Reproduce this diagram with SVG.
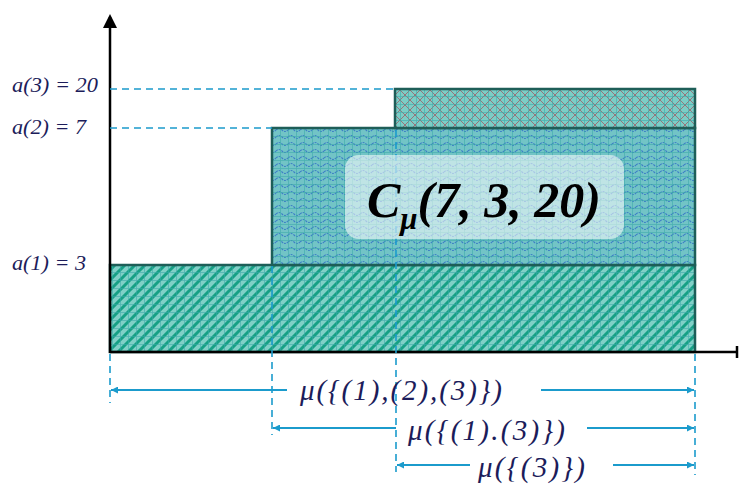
<svg xmlns="http://www.w3.org/2000/svg" width="739" height="486" viewBox="0 0 739 486">
<style>
.lbl{font-family:"Liberation Serif","Times New Roman","DejaVu Serif",serif;font-style:italic;fill:#1c1c5a;}
.dash{stroke:#1b9bcc;stroke-width:1.6;stroke-dasharray:7 5;fill:none;}
.dim{stroke:#1b9bcc;stroke-width:2;fill:none;}
.box{stroke:#1e5e58;stroke-width:2.5;}
.axis{stroke:#000;stroke-width:2.5;fill:none;}
</style>
<defs>
<pattern id="grid" width="8" height="8" patternUnits="userSpaceOnUse">
<path d="M0 0.5H8M0.5 0V8" stroke="#3aa8a8" stroke-width="0.8" opacity="0.7"/>
</pattern>
<pattern id="diag" width="10" height="10" patternUnits="userSpaceOnUse">
<rect width="10" height="10" fill="#80d0c7"/>
<path d="M-2 12L12 -2M-2 2L2 -2M8 12L12 8" stroke="#16a085" stroke-width="3"/>
</pattern>
<pattern id="wave" width="12" height="7" patternUnits="userSpaceOnUse">
<rect width="12" height="7" fill="#72c4c6"/>
<path d="M0 4Q3 1 6 4T12 4" stroke="#3d7fc6" stroke-width="1.1" fill="none" stroke-dasharray="2 1"/>
</pattern>
<pattern id="cross" width="10" height="10" patternUnits="userSpaceOnUse">
<rect width="10" height="10" fill="#7ccdc6"/>
<path d="M0 0L10 10M10 0L0 10" stroke="#9a6a72" stroke-width="0.9"/>
</pattern>
<marker id="ah" viewBox="0 0 10 10" refX="10" refY="5" markerWidth="7" markerHeight="7" orient="auto-start-reverse" markerUnits="userSpaceOnUse">
<path d="M0 0L10 5L0 10Z" fill="#1b9bcc"/>
</marker>
</defs>

<g id="bars">
<g id="bar1">
<rect x="110" y="265" width="585" height="87" fill="url(#diag)"/>
<rect x="110" y="265" width="585" height="87" fill="url(#grid)" class="box"/>
</g>
<g id="bar2">
<rect x="272" y="128" width="423" height="137" fill="url(#wave)"/>
<rect x="272" y="128" width="423" height="137" fill="url(#grid)" class="box"/>
</g>
<g id="bar3">
<rect x="395" y="89" width="300" height="39" fill="url(#cross)"/>
<rect x="395" y="89" width="300" height="39" fill="url(#grid)" class="box"/>
</g>
</g>

<g id="axes">
<line x1="110" y1="353" x2="110" y2="17" class="axis"/>
<path d="M103 28L110 14L117 28Z" fill="#000"/>
<line x1="110" y1="352" x2="737" y2="352" class="axis"/>
<line x1="737" y1="346" x2="737" y2="358" class="axis"/>
</g>

<g id="connectors">
<line x1="110" y1="89" x2="395" y2="89" class="dash"/>
<line x1="110" y1="128" x2="272" y2="128" class="dash"/>
<line x1="110" y1="354" x2="110" y2="403" class="dash"/>
<line x1="272" y1="266" x2="272" y2="435" class="dash"/>
<line x1="396" y1="130" x2="396" y2="472" class="dash"/>
<line x1="695" y1="354" x2="695" y2="475" class="dash"/>
<line x1="287" y1="390" x2="111" y2="390" class="dim" marker-end="url(#ah)"/>
<line x1="541" y1="390" x2="694" y2="390" class="dim" marker-end="url(#ah)"/>
<line x1="396" y1="428" x2="273" y2="428" class="dim" marker-end="url(#ah)"/>
<line x1="587" y1="428" x2="694" y2="428" class="dim" marker-end="url(#ah)"/>
<line x1="470" y1="465" x2="397" y2="465" class="dim" marker-end="url(#ah)"/>
<line x1="613" y1="465" x2="694" y2="465" class="dim" marker-end="url(#ah)"/>
</g>

<g id="title">
<rect x="345" y="155" width="279" height="84" rx="14" fill="#ffffff" opacity="0.55"/>
<text x="367" y="217" style="font-family:'Liberation Serif','Times New Roman','DejaVu Serif',serif;font-style:italic;font-weight:bold" font-size="50" fill="#000">C<tspan font-size="31" dy="12">μ</tspan><tspan dy="-12">(7, 3, 20)</tspan></text>
</g>

<g id="ylabels">
<text x="12" y="92" class="lbl" font-size="20" textLength="86" lengthAdjust="spacingAndGlyphs">a(3) = 20</text>
<text x="12" y="134" class="lbl" font-size="20" textLength="74" lengthAdjust="spacingAndGlyphs">a(2) = 7</text>
<text x="12" y="270" class="lbl" font-size="20" textLength="74" lengthAdjust="spacingAndGlyphs">a(1) = 3</text>
</g>

<g id="dimlabels">
<text x="300" y="400" class="lbl" font-size="29" textLength="202" lengthAdjust="spacing">μ({(1),(2),(3)})</text>
<text x="408" y="440" class="lbl" font-size="29" textLength="157" lengthAdjust="spacing">μ({(1).(3)})</text>
<text x="478" y="477" class="lbl" font-size="29" textLength="107" lengthAdjust="spacing">μ({(3)})</text>
</g>
</svg>
